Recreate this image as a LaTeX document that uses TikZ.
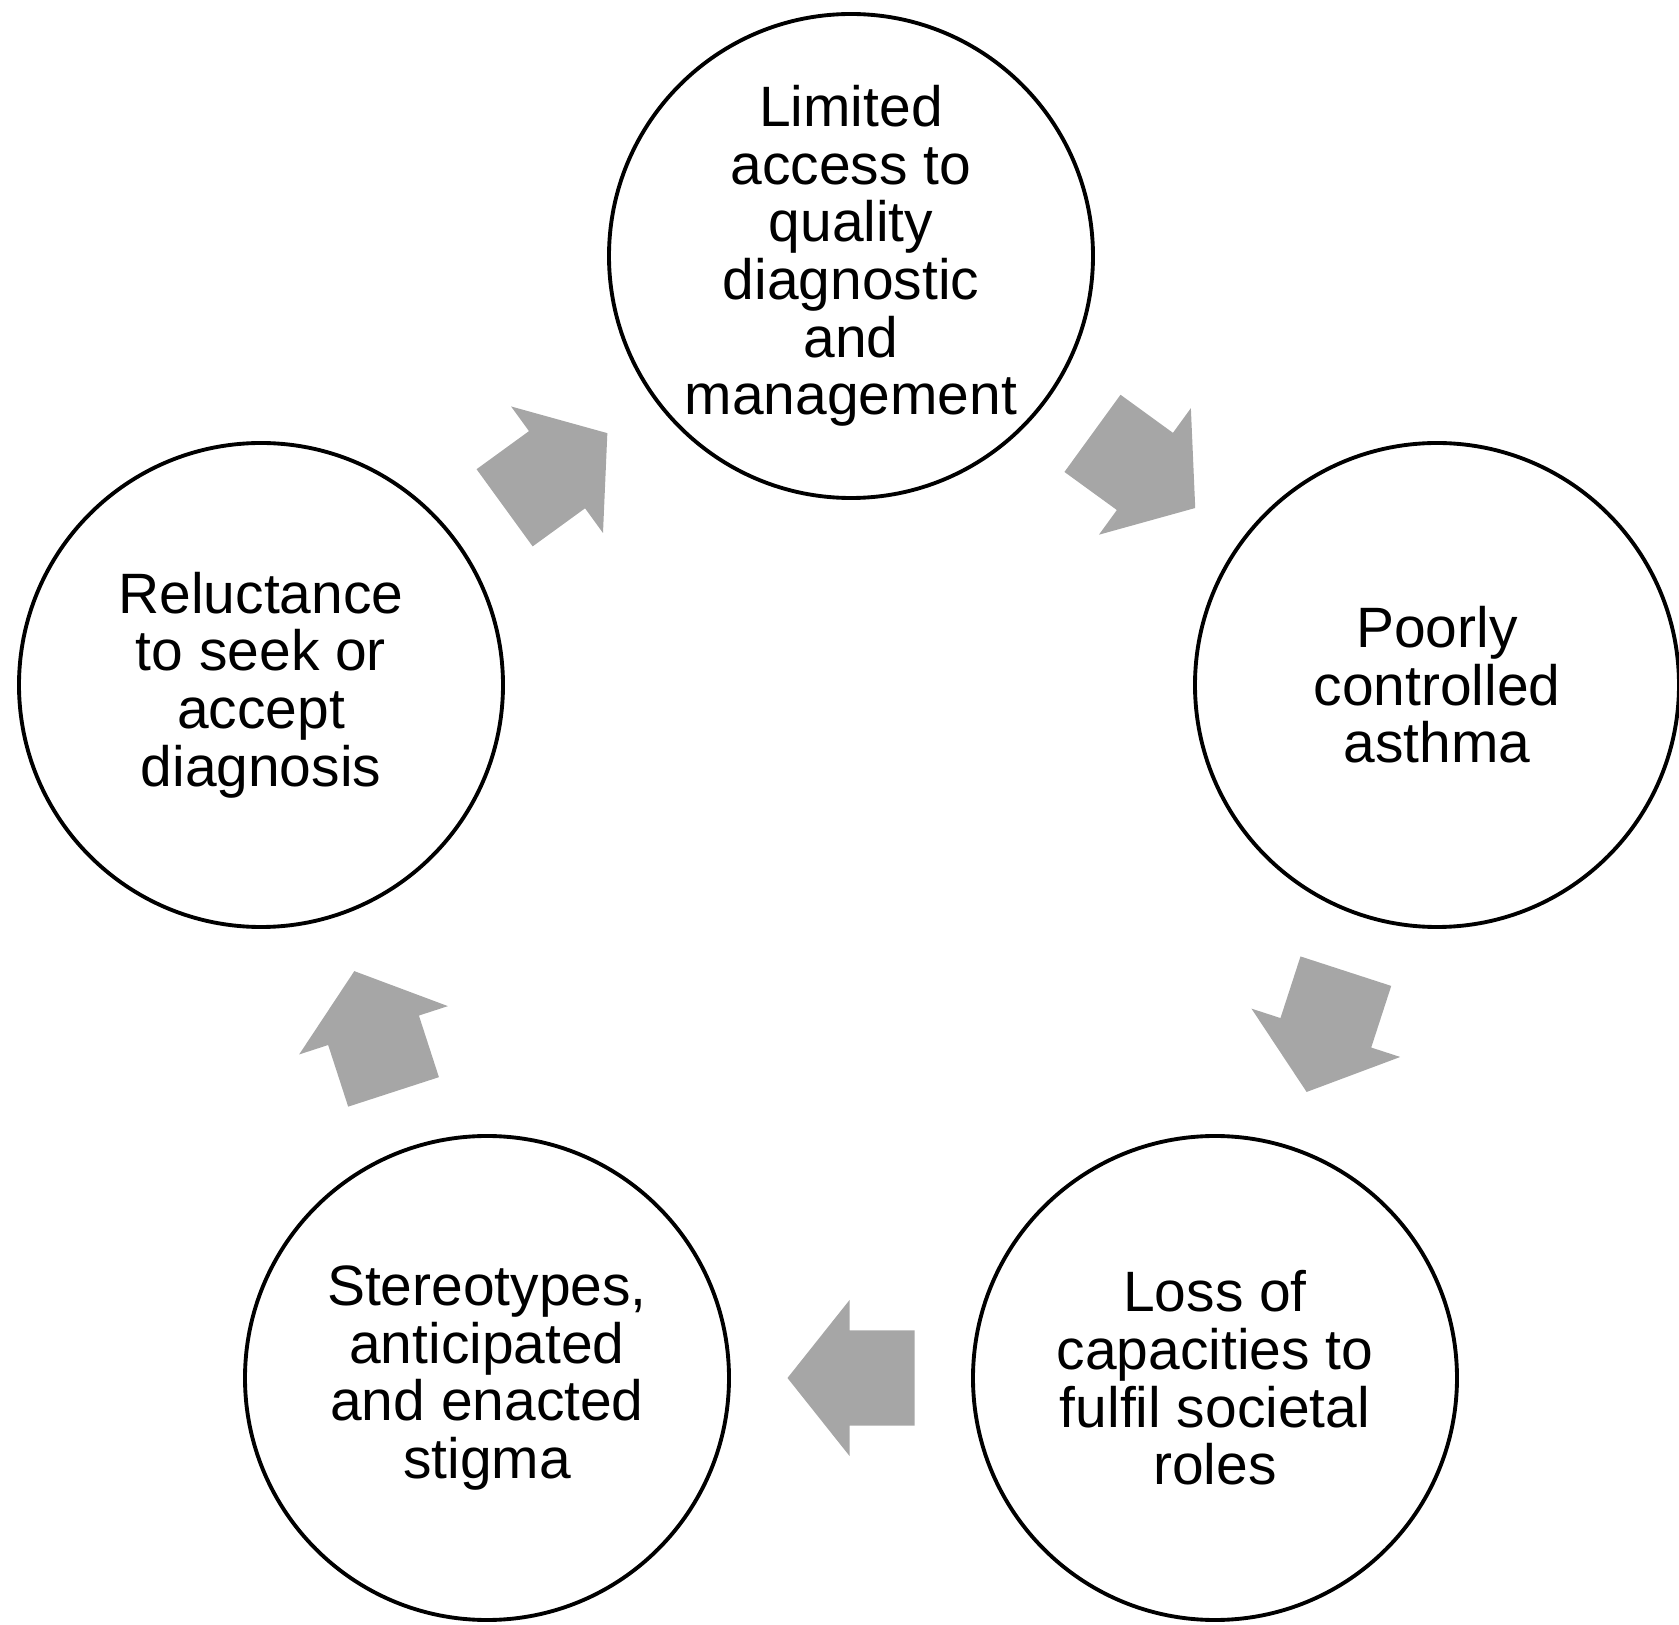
\documentclass[tikz,border=0pt]{standalone}
\usepackage{fontspec}
\setmainfont{Liberation Sans}
\usetikzlibrary{shapes.arrows,calc}
\definecolor{cArr}{HTML}{A6A6A6}

\begin{document}
\begin{tikzpicture}[x=1cm,y=1cm,
  stage/.style={circle,draw=black,line width=1.1pt,minimum size=4.84cm,inner sep=0pt,
    align=center,font=\fontsize{16.2}{16.4}\selectfont},
  turn/.style={single arrow,fill=cArr,draw=none,anchor=tip,minimum height=1.27cm,
    inner xsep=0pt,inner ysep=0.47cm,single arrow head extend=0.305cm,
    single arrow tip angle=103,outer sep=0pt}]
  \useasboundingbox (0,0) rectangle (16.79,16.24);

  \node[stage] (lim) at (8.51,13.68)
    {Limited\\access to\\quality\\diagnostic\\and\\management};
  \node[stage] (poor) at (14.37,9.39)
    {Poorly\\controlled\\asthma};
  \node[stage] (loss) at (12.15,2.46)
    {Loss of\\capacities to\\fulfil societal\\roles};
  \node[stage] (stig) at (4.87,2.46)
    {Stereotypes,\\anticipated\\and enacted\\stigma};
  \node[stage] (rel) at (2.61,9.39)
    {Reluctance\\to seek or\\accept\\diagnosis};

  % block arrows sit halfway along each chord
  \node[turn,rotate=-36]  (t1) at ($(lim)!0.5!(poor)!0.635cm!(poor)$) {};
  \node[turn,rotate=-108] (t2) at ($(poor)!0.5!(loss)!0.635cm!(loss)$) {};
  \node[turn,rotate=180]  (t3) at ($(loss)!0.5!(stig)!0.635cm!(stig)$) {};
  \node[turn,rotate=108]  (t4) at ($(stig)!0.5!(rel)!0.635cm!(rel)$) {};
  \node[turn,rotate=36]   (t5) at ($(rel)!0.5!(lim)!0.635cm!(lim)$) {};
\end{tikzpicture}
\end{document}
